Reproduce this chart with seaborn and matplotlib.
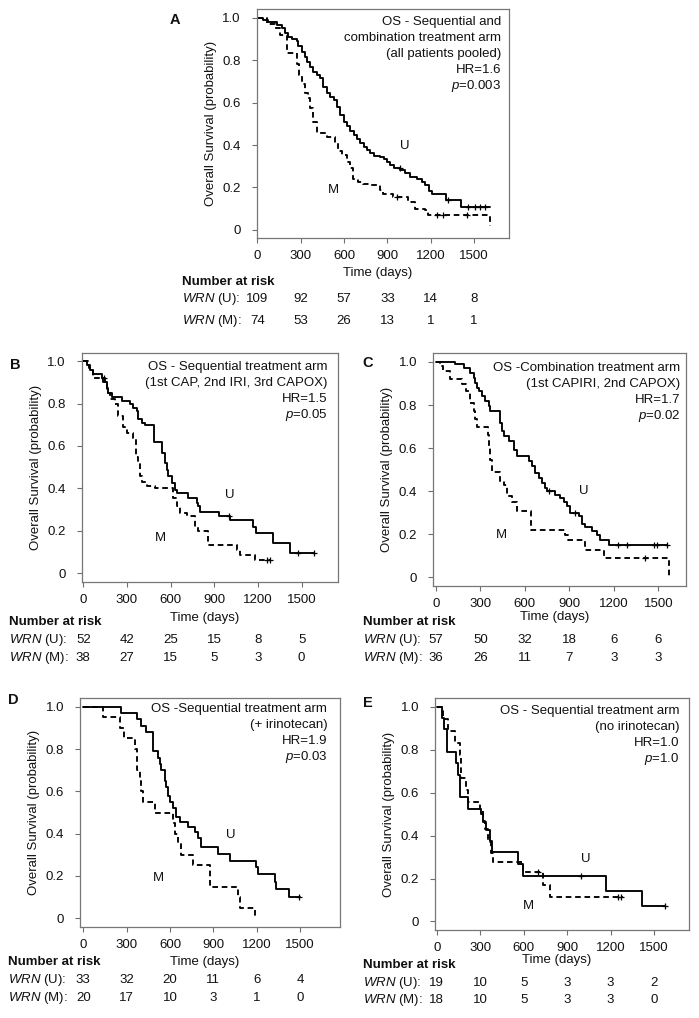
import numpy as np
import pandas as pd
import seaborn as sns
import matplotlib.pyplot as plt
from matplotlib.transforms import blended_transform_factory

# ---- survival curves (time in days, survival probability after the step) ----
a_u_t = [0, 42, 76, 134, 169, 192, 215, 238, 273, 285, 308, 331, 343, 366, 389, 412, 435, 458, 482, 505,
         528, 551, 574, 597, 620, 644, 667, 690, 713, 736, 759, 782, 806, 852, 875, 898, 921, 945, 991, 1025,
         1060, 1107, 1141, 1164, 1188, 1211, 1303, 1408, 1611]
a_u_s = [1.0, 0.99, 0.98, 0.968, 0.95, 0.93, 0.91, 0.90, 0.89, 0.865, 0.84, 0.815, 0.79, 0.77, 0.745, 0.73, 0.714, 0.675, 0.644, 0.628,
         0.612, 0.58, 0.54, 0.51, 0.49, 0.467, 0.446, 0.426, 0.41, 0.39, 0.375, 0.36, 0.35, 0.343, 0.335, 0.32, 0.304, 0.29, 0.28, 0.267,
         0.25, 0.24, 0.225, 0.21, 0.185, 0.17, 0.14, 0.108, 0.108]
a_u_cens = [988, 1318, 1461, 1507, 1542, 1577]
a_m_t = [0, 65, 122, 157, 203, 273, 290, 307, 330, 353, 365, 388, 411, 480, 538, 560, 584, 619, 642, 665,
         700, 734, 780, 850, 873, 942, 1046, 1092, 1161, 1184, 1611]
a_m_s = [1.0, 0.97, 0.95, 0.92, 0.835, 0.78, 0.73, 0.69, 0.646, 0.62, 0.574, 0.51, 0.456, 0.44, 0.41, 0.37, 0.353, 0.32, 0.29, 0.242,
         0.226, 0.218, 0.21, 0.187, 0.17, 0.155, 0.13, 0.10, 0.092, 0.068, 0.02]
a_m_cens = [965, 1242, 1288, 1450]

b_u_t = [0, 23, 46, 69, 126, 149, 160, 172, 195, 263, 321, 344, 366, 378, 401, 424, 485, 538, 561, 572,
         584, 607, 630, 641, 721, 779, 790, 801, 930, 1005, 1168, 1190, 1305, 1420, 1585]
b_u_s = [1.0, 0.98, 0.96, 0.94, 0.92, 0.90, 0.875, 0.85, 0.83, 0.81, 0.80, 0.78, 0.765, 0.725, 0.71, 0.70, 0.62, 0.567, 0.52, 0.488,
         0.457, 0.425, 0.394, 0.378, 0.354, 0.33, 0.315, 0.29, 0.27, 0.25, 0.22, 0.19, 0.142, 0.094, 0.094]
b_u_cens = [140, 1000, 1477, 1585]
b_m_t = [0, 40, 69, 137, 160, 183, 217, 240, 275, 298, 343, 362, 378, 389, 401, 435, 492, 618, 641, 664,
         710, 767, 790, 859, 1053, 1076, 1180, 1282]
b_m_s = [1.0, 0.97, 0.92, 0.90, 0.85, 0.82, 0.80, 0.74, 0.69, 0.66, 0.64, 0.55, 0.52, 0.46, 0.43, 0.41, 0.40, 0.354, 0.315, 0.283,
         0.268, 0.22, 0.197, 0.134, 0.11, 0.087, 0.063, 0.063]
b_m_cens = [1260, 1282]

c_u_t = [0, 130, 187, 232, 254, 265, 277, 288, 310, 333, 355, 367, 434, 445, 456, 490, 524, 546, 625, 648,
         670, 693, 715, 738, 749, 805, 839, 861, 884, 906, 963, 985, 1008, 1052, 1086, 1109, 1165, 1558]
c_u_s = [1.0, 0.99, 0.974, 0.95, 0.927, 0.904, 0.88, 0.865, 0.84, 0.82, 0.795, 0.773, 0.717, 0.68, 0.655, 0.632, 0.593, 0.562, 0.539, 0.516,
         0.484, 0.461, 0.438, 0.415, 0.40, 0.384, 0.368, 0.352, 0.33, 0.30, 0.283, 0.25, 0.236, 0.213, 0.197, 0.174, 0.15, 0.15]
c_u_cens = [760, 940, 1230, 1290, 1470, 1490, 1558]
c_m_t = [0, 29, 50, 97, 175, 200, 232, 254, 265, 277, 350, 360, 367, 378, 434, 456, 479, 513, 546, 640,
         870, 890, 1008, 1131, 1570]
c_m_s = [1.0, 0.98, 0.957, 0.92, 0.896, 0.865, 0.81, 0.77, 0.733, 0.70, 0.66, 0.60, 0.547, 0.49, 0.446, 0.43, 0.376, 0.352, 0.306, 0.22,
         0.197, 0.174, 0.127, 0.089, 0.0]
c_m_cens = [1412]

d_u_t = [0, 263, 374, 402, 436, 482, 517, 528, 540, 563, 575, 586, 598, 621, 644, 667, 725, 771, 794, 812,
         932, 1013, 1198, 1209, 1325, 1336, 1422, 1500]
d_u_s = [1.0, 0.97, 0.94, 0.91, 0.88, 0.79, 0.76, 0.73, 0.70, 0.65, 0.62, 0.58, 0.55, 0.52, 0.48, 0.455, 0.43, 0.41, 0.38, 0.335,
         0.305, 0.27, 0.24, 0.21, 0.17, 0.14, 0.10, 0.10]
d_u_cens = [1490]
d_m_t = [0, 136, 252, 280, 360, 375, 390, 400, 413, 494, 620, 632, 655, 679, 759, 875, 1071, 1082, 1190]
d_m_s = [1.0, 0.95, 0.90, 0.85, 0.80, 0.70, 0.65, 0.60, 0.55, 0.50, 0.45, 0.40, 0.35, 0.30, 0.25, 0.15, 0.10, 0.05, 0.0]
d_m_cens = []

e_u_t = [0, 39, 50, 71, 131, 147, 159, 216, 308, 320, 343, 366, 384, 561, 596, 1166, 1419, 1573]
e_u_s = [1.0, 0.947, 0.895, 0.79, 0.737, 0.684, 0.579, 0.526, 0.50, 0.463, 0.424, 0.377, 0.322, 0.268, 0.213, 0.143, 0.073, 0.073]
e_u_cens = [998, 1573]
e_m_t = [0, 44, 78, 124, 159, 170, 200, 216, 297, 320, 331, 355, 377, 389, 596, 734, 780, 1286]
e_m_s = [1.0, 0.944, 0.889, 0.833, 0.778, 0.667, 0.611, 0.556, 0.525, 0.47, 0.43, 0.37, 0.32, 0.278, 0.23, 0.17, 0.116, 0.116]
e_m_cens = [699, 1250, 1275]

# ---- number at risk ----
risk_times = [0, 300, 600, 900, 1200, 1500]
a_risk_u = [109, 92, 57, 33, 14, 8]
a_risk_m = [74, 53, 26, 13, 1, 1]
b_risk_u = [52, 42, 25, 15, 8, 5]
b_risk_m = [38, 27, 15, 5, 3, 0]
c_risk_u = [57, 50, 32, 18, 6, 6]
c_risk_m = [36, 26, 11, 7, 3, 3]
d_risk_u = [33, 32, 20, 11, 6, 4]
d_risk_m = [20, 17, 10, 3, 1, 0]
e_risk_u = [19, 10, 5, 3, 3, 2]
e_risk_m = [18, 10, 5, 3, 3, 0]

# ---- annotation text ----
a_notes = ["OS - Sequential and", "combination treatment arm", "(all patients pooled)", "HR=1.6", "$p$=0.003"]
b_notes = ["OS - Sequential treatment arm", "(1st CAP, 2nd IRI, 3rd CAPOX)", "HR=1.5", "$p$=0.05"]
c_notes = ["OS -Combination treatment arm", "(1st CAPIRI, 2nd CAPOX)", "HR=1.7", "$p$=0.02"]
d_notes = ["OS -Sequential treatment arm", "(+ irinotecan)", "HR=1.9", "$p$=0.03"]
e_notes = ["OS - Sequential treatment arm", "(no irinotecan)", "HR=1.0", "$p$=1.0"]

W, H = 699, 1018
FS = 9.5
INK = "#111111"

sns.set_style("ticks")
plt.rcParams["font.family"] = ["Liberation Sans", "DejaVu Sans"]
plt.rcParams["mathtext.fontset"] = "custom"
plt.rcParams["mathtext.rm"] = "Liberation Sans"
plt.rcParams["mathtext.it"] = "Liberation Sans:italic"
plt.rcParams["mathtext.bf"] = "Liberation Sans:bold"

fig = plt.figure(figsize=(W / 100, H / 100), dpi=100)


def fxy(px, py):
    return px / W, 1 - py / H


def censor_y(t, s, ct):
    idx = np.searchsorted(np.array(t), np.array(ct), side="right") - 1
    return np.array(s)[idx]


def draw_panel(letter, box, xlim, u, m, notes, note_pos, u_lab, m_lab, risk_u, risk_m, table, letter_pos, xlab_d):
    x0, y0, x1, y1 = box
    ax = fig.add_axes([x0 / W, 1 - y1 / H, (x1 - x0) / W, (y1 - y0) / H])
    wpx, hpx = x1 - x0, y1 - y0

    for (t, s, cens), ls in [(u, "-"), (m, (0, (3.0, 2.0)))]:
        df = pd.DataFrame({"time": t, "surv": s})
        sns.lineplot(data=df, x="time", y="surv", drawstyle="steps-post", estimator=None,
                     color="black", lw=1.35, linestyle=ls, ax=ax)
        if len(cens):
            sns.scatterplot(x=cens, y=censor_y(t, s, cens), marker="+", s=20, color="black",
                            linewidth=0.9, ax=ax, zorder=3)

    ax.set_xlim(*xlim)
    ax.set_ylim(-0.04, 1.04)
    ax.set_xticks(risk_times)
    ax.set_yticks([0, 0.2, 0.4, 0.6, 0.8, 1.0])
    ax.set_yticklabels(["0", "0.2", "0.4", "0.6", "0.8", "1.0"])
    ax.tick_params(direction="out", length=3.5, width=0.8, color="#6e6e6e",
                   labelsize=FS, labelcolor=INK)
    ax.tick_params(axis="x", pad=5)
    ax.tick_params(axis="y", pad=8)
    for sp in ax.spines.values():
        sp.set_color("#777777")
        sp.set_linewidth(0.9)

    ax.set_ylabel("Overall Survival (probability)", fontsize=FS, color=INK, va="center")
    ax.yaxis.set_label_coords(-46 / wpx, 0.5)
    ax.set_xlabel("Time (days)", fontsize=FS, color=INK, va="center")
    ax.xaxis.set_label_coords(0.48, -xlab_d / hpx)

    # annotation block (top right)
    rx, cy = note_pos
    for i, line in enumerate(notes):
        fig.text(*fxy(rx, cy + 16 * i), line, ha="right", va="center", fontsize=FS, color=INK)

    ax.text(*u_lab, "U", ha="center", va="center", fontsize=FS, color=INK)
    ax.text(*m_lab, "M", ha="center", va="center", fontsize=FS, color=INK)

    # number-at-risk table
    lx, yh, yu, ym = table
    fig.text(*fxy(lx, yh), "Number at risk", ha="left", va="center", fontsize=FS,
             fontweight="bold", color=INK)
    trans = blended_transform_factory(ax.transData, fig.transFigure)
    for row_y, lab, vals in [(yu, "$WRN$ (U):", risk_u), (ym, "$WRN$ (M):", risk_m)]:
        fig.text(*fxy(lx, row_y), lab, ha="left", va="center", fontsize=FS, color=INK)
        for tt, v in zip(risk_times, vals):
            ax.text(tt, 1 - row_y / H, str(v), transform=trans, ha="center", va="center",
                    fontsize=FS, color=INK)

    fig.text(*fxy(*letter_pos), letter, ha="center", va="center", fontsize=10.5,
             fontweight="bold", color=INK)
    return ax


draw_panel("A", (256.7, 9.3, 509, 238.3), (-4, 1742),
           (a_u_t, a_u_s, a_u_cens), (a_m_t, a_m_s, a_m_cens), a_notes, (501, 21.7),
           (1018, 0.395), (526, 0.188), a_risk_u, a_risk_m, (182, 281.7, 299, 321), (175, 20), 34.7)
draw_panel("B", (81.7, 352.7, 338, 581.7), (-11, 1750),
           (b_u_t, b_u_s, b_u_cens), (b_m_t, b_m_s, b_m_cens), b_notes, (327.3, 366.7),
           (1008, 0.37), (527, 0.165), b_risk_u, b_risk_m, (9, 621.7, 640, 658), (15, 365), 36)
draw_panel("C", (433.3, 353.3, 686, 586), (-18, 1687),
           (c_u_t, c_u_s, c_u_cens), (c_m_t, c_m_s, c_m_cens), c_notes, (680.3, 368.3),
           (997, 0.399), (445, 0.197), c_risk_u, c_risk_m, (363, 621.7, 640, 658), (368, 363), 31)
draw_panel("D", (80, 698.3, 340, 926.7), (-23, 1777),
           (d_u_t, d_u_s, d_u_cens), (d_m_t, d_m_s, d_m_cens), d_notes, (327.3, 709.3),
           (1024, 0.394), (517, 0.189), d_risk_u, d_risk_m, (8, 961.7, 980, 998), (13, 700), 35)
draw_panel("E", (435, 698.3, 689.3, 930), (-12, 1743),
           (e_u_t, e_u_s, e_u_cens), (e_m_t, e_m_s, e_m_cens), e_notes, (679.7, 711),
           (1025, 0.29), (635, 0.073), e_risk_u, e_risk_m, (363, 965, 982.7, 1000), (368, 703), 30)

fig.savefig("out.png", dpi=100)
